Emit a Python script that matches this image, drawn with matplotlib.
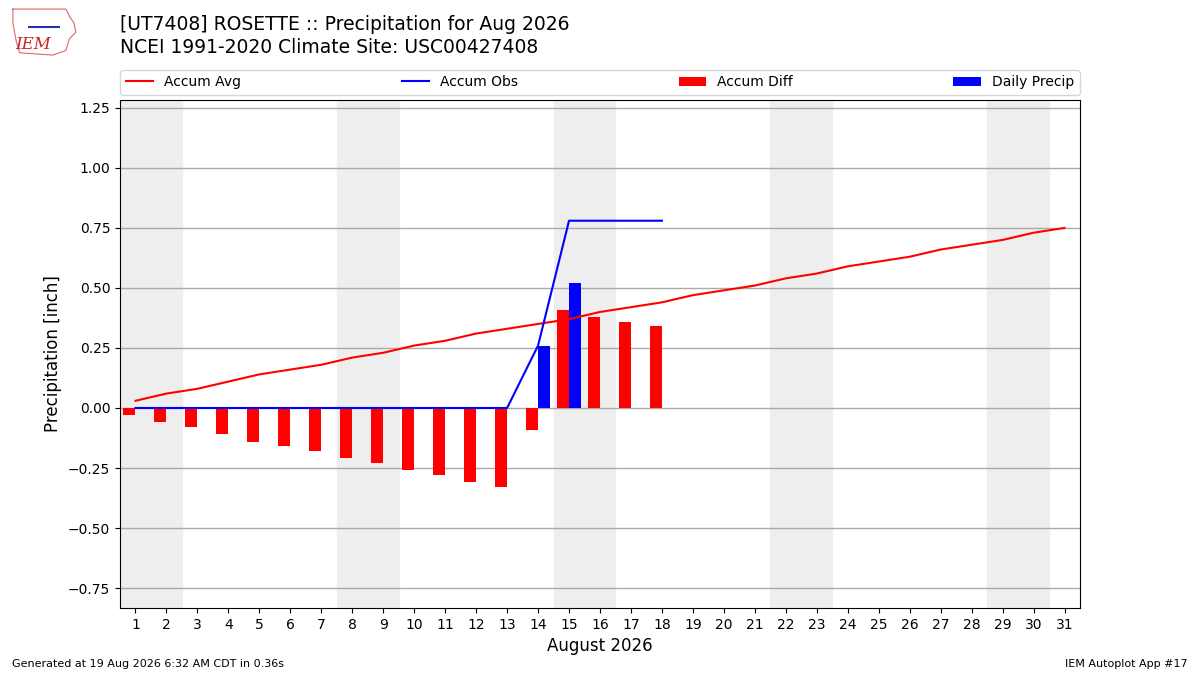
import numpy as np
import matplotlib.pyplot as plt

days = np.arange(1, 32)
accum_avg = [0.03, 0.06, 0.08, 0.11, 0.14, 0.16, 0.18, 0.21, 0.23, 0.26,
             0.28, 0.31, 0.33, 0.35, 0.37, 0.40, 0.42, 0.44, 0.47, 0.49,
             0.51, 0.54, 0.56, 0.59, 0.61, 0.63, 0.66, 0.68, 0.70, 0.73, 0.75]
obs_days = np.arange(1, 19)
daily_precip = [0, 0, 0, 0, 0, 0, 0, 0, 0, 0, 0, 0, 0, 0.26, 0.52, 0, 0, 0]
weekend_starts = [1, 8, 15, 22, 29]

accum_obs = np.cumsum(daily_precip)
accum_diff = accum_obs - np.array(accum_avg[:len(obs_days)])

fig = plt.figure(figsize=(12, 6.75), dpi=100)
ax = fig.add_axes([0.1, 0.0993, 0.8, 0.7526])

for d in weekend_starts:
    ax.axvspan(d - 0.5, d + 1.5, color="#EEEEEE", zorder=0)

ax.plot(days, accum_avg, color="r", lw=1.5, label="Accum Avg", zorder=3)
ax.plot(obs_days, accum_obs, color="b", lw=1.5, label="Accum Obs", zorder=3)
ax.bar(obs_days - 0.2, accum_diff, width=0.4, color="r", label="Accum Diff", zorder=2)
ax.bar(obs_days + 0.2, daily_precip, width=0.4, color="b", label="Daily Precip", zorder=2)

ax.set_xlim(0.5, 31.5)
ax.set_ylim(-0.833, 1.283)
ax.set_xticks(days)
ax.set_yticks(np.arange(-0.75, 1.26, 0.25))
ax.yaxis.grid(True, color="#AAAAAA", lw=1)
ax.set_axisbelow(True)
ax.set_xlabel("August 2026", fontsize=12)
ax.set_ylabel("Precipitation [inch]", fontsize=12)

ax.legend(bbox_to_anchor=(0, 1.01, 1, 0.05), loc="lower left", mode="expand",
          ncol=4, borderaxespad=0, fontsize=10)

fig.text(0.1, 0.95, "[UT7408] ROSETTE :: Precipitation for Aug 2026",
         fontsize=13.5, va="bottom")
fig.text(0.1, 0.916, "NCEI 1991-2020 Climate Site: USC00427408",
         fontsize=13.5, va="bottom")

# rough logo: state outline + IEM text
logo = fig.add_axes([0.008, 0.915, 0.058, 0.075])
ox = [0.05, 0.85, 0.9, 0.97, 1.0, 0.9, 0.85, 0.65, 0.15, 0.1, 0.05, 0.05]
oy = [1.0, 1.0, 0.85, 0.7, 0.5, 0.35, 0.1, 0.0, 0.05, 0.3, 0.7, 1.0]
logo.plot(ox, oy, color="#dd6666", lw=0.8)
logo.text(0.35, 0.22, "IEM", color="#cc2222", fontsize=12, style="italic",
          family="DejaVu Serif", ha="center", va="center")
logo.plot([0.3, 0.75], [0.62, 0.62], color="#2233aa", lw=1.5)
logo.set_xlim(0, 1.05)
logo.set_ylim(-0.05, 1.05)
logo.axis("off")

fig.text(0.01, 0.012, "Generated at 19 Aug 2026 6:32 AM CDT in 0.36s", fontsize=8)
fig.text(0.99, 0.012, "IEM Autoplot App #17", fontsize=8, ha="right")

fig.savefig("out.png")
